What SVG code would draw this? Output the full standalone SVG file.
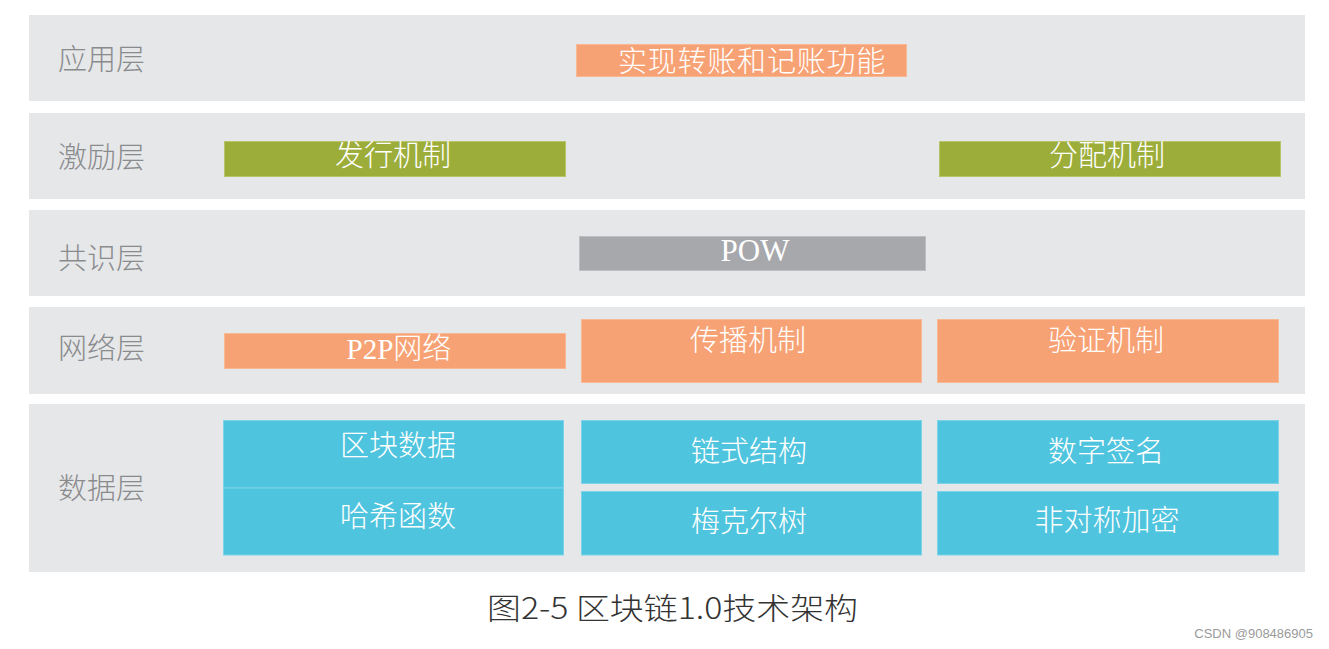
<svg xmlns="http://www.w3.org/2000/svg" width="1329" height="649" viewBox="0 0 1329 649">
<style>
.band{fill:#e6e7e9}
.lbl{font-family:"Noto Sans CJK SC","Noto Sans",sans-serif;font-size:29px;font-weight:300;fill:#8a8b8d}
.t{font-family:"Liberation Serif","Noto Sans CJK SC",serif;font-size:29px;font-weight:300;fill:#ffffff;text-anchor:middle}
.or{fill:#f7a275;stroke:#f9b894;stroke-width:1}
.gr{fill:#9cad3a;stroke:#b7c46a;stroke-width:1}
.gy{fill:#a7a8ab;stroke:#bdbec0;stroke-width:1}
.cy{fill:#4fc4de;stroke:#7dd3e7;stroke-width:1}
</style>
<rect width="1329" height="649" fill="#ffffff"/>
<g id="layer-app">
<rect class="band" x="29" y="15" width="1276" height="86"/>
<text class="lbl" x="58" y="69.5">应用层</text>
</g>
<g id="layer-incentive">
<rect class="band" x="29" y="113" width="1276" height="86"/>
<text class="lbl" x="58" y="168">激励层</text>
</g>
<g id="layer-consensus">
<rect class="band" x="29" y="210" width="1276" height="86"/>
<text class="lbl" x="58" y="268.5">共识层</text>
</g>
<g id="layer-network">
<rect class="band" x="29" y="307" width="1276" height="87"/>
<text class="lbl" x="58" y="358.5">网络层</text>
</g>
<g id="layer-data">
<rect class="band" x="29" y="404" width="1276" height="168"/>
<text class="lbl" x="58" y="498.5">数据层</text>
</g>
<g id="n-transfer">
<rect class="or" x="576.5" y="44.5" width="330" height="32"/>
<text class="t" x="752" y="72" style="letter-spacing:0.8px">实现转账和记账功能</text>
</g>
<g id="n-issue">
<rect class="gr" x="224.5" y="141.5" width="341" height="35"/>
<text class="t" x="393" y="166">发行机制</text>
</g>
<g id="n-distribute">
<rect class="gr" x="939.5" y="141.5" width="341" height="35"/>
<text class="t" x="1107" y="166">分配机制</text>
</g>
<g id="n-pow">
<rect class="gy" x="579.5" y="236.5" width="346" height="34"/>
<text class="t" x="755" y="261" style="font-size:31px">POW</text>
</g>
<g id="n-p2p">
<rect class="or" x="224.5" y="333.5" width="341" height="35"/>
<text class="t" x="399" y="358.5">P2P网络</text>
</g>
<g id="n-propagate">
<rect class="or" x="581.5" y="319.5" width="340" height="63"/>
<text class="t" x="748" y="350.5">传播机制</text>
</g>
<g id="n-verify">
<rect class="or" x="937.5" y="319.5" width="341" height="63"/>
<text class="t" x="1106" y="350.5">验证机制</text>
</g>
<g id="n-blockdata">
<rect class="cy" x="223.5" y="420.5" width="340" height="67.5"/>
<text class="t" x="398" y="455.5">区块数据</text>
</g>
<g id="n-hash">
<rect class="cy" x="223.5" y="488" width="340" height="67"/>
<text class="t" x="398" y="527">哈希函数</text>
</g>
<g id="n-chain">
<rect class="cy" x="581.5" y="420.5" width="340" height="63"/>
<text class="t" x="749" y="461.5">链式结构</text>
</g>
<g id="n-merkle">
<rect class="cy" x="581.5" y="491.5" width="340" height="63.5"/>
<text class="t" x="749" y="531.5">梅克尔树</text>
</g>
<g id="n-signature">
<rect class="cy" x="937.5" y="420.5" width="341" height="63"/>
<text class="t" x="1106" y="462">数字签名</text>
</g>
<g id="n-asym">
<rect class="cy" x="937.5" y="491.5" width="341" height="63.5"/>
<text class="t" x="1107" y="531">非对称加密</text>
</g>
<g id="connectors"></g>
<text x="487" y="618.5" textLength="371" lengthAdjust="spacingAndGlyphs" style="font-family:'Noto Sans CJK SC',sans-serif;font-size:30px;font-weight:300;fill:#333333">图2-5 区块链1.0技术架构</text>
<text x="1313" y="638" text-anchor="end" style="font-family:'Liberation Sans',sans-serif;font-size:13px;fill:#9a9a9a">CSDN @908486905</text>
</svg>
